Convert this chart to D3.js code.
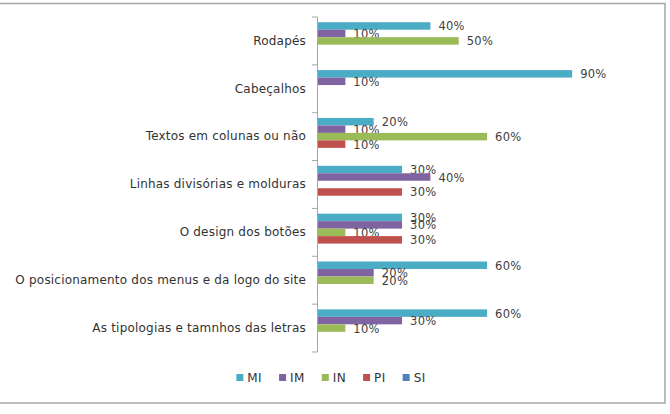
<!DOCTYPE html>
<html>
<head>
<meta charset="utf-8">
<script src="https://cdn.jsdelivr.net/npm/d3@7/dist/d3.min.js"></script>
<style>
html,body{margin:0;padding:0;background:#fff;}
svg{display:block;}
text{font-family:"DejaVu Sans",sans-serif;}
</style>
</head>
<body>
<svg id="chart" width="670" height="414"></svg>
<script>
// Categories from top to bottom
const categories = [
  "Rodapés",
  "Cabeçalhos",
  "Textos em colunas ou não",
  "Linhas divisórias e molduras",
  "O design dos botões",
  "O posicionamento dos menus e da logo do site",
  "As tipologias e tamnhos das letras"
];
const seriesNames = ["MI", "IM", "IN", "PI", "SI"];
const seriesColors = ["#4bacc6", "#8064a2", "#9bbb59", "#c0504d", "#4f81bd"];
// values per series, in category order (null = no bar)
const MI = [0.4, 0.9, 0.2, 0.3, 0.3, 0.6, 0.6];
const IM = [0.1, 0.1, 0.1, 0.4, 0.3, 0.2, 0.3];
const IN = [0.5, null, 0.6, null, 0.1, 0.2, 0.1];
const PI = [null, null, 0.1, 0.3, 0.3, null, null];
const SI = [null, null, null, null, null, null, null];
const seriesValues = [MI, IM, IN, PI, SI];

const svg = d3.select("#chart");

// outer frame
svg.append("rect")
  .attr("x", -1).attr("y", 3.5).attr("width", 666).attr("height", 399.5)
  .attr("fill", "#fff").attr("stroke", "#a6a6a6").attr("stroke-width", 1.5);

const plot = {left: 317, right: 600.5, top: 17, bottom: 352};

const x = d3.scaleLinear().domain([0, 1]).range([plot.left, plot.right]);
const y = d3.scaleBand().domain(categories).range([plot.top, plot.bottom]).paddingInner(0).paddingOuter(0);
const inner = d3.scaleBand().domain(seriesNames).range([0, y.bandwidth()]).paddingOuter(0.7).paddingInner(0);

// bars
seriesNames.forEach((s, si) => {
  const vals = seriesValues[si];
  const data = categories.map((c, i) => ({c, v: vals[i]})).filter(d => d.v != null);
  const g = svg.append("g");
  g.selectAll("rect").data(data).enter().append("rect")
    .attr("x", x(0))
    .attr("y", d => y(d.c) + inner(s))
    .attr("width", d => x(d.v) - x(0))
    .attr("height", inner.bandwidth())
    .attr("fill", seriesColors[si]);
  g.selectAll("text").data(data).enter().append("text")
    .attr("x", d => x(d.v) + 8)
    .attr("y", d => y(d.c) + inner(s) + inner.bandwidth() / 2 + 1)
    .attr("dominant-baseline", "middle")
    .attr("font-size", 11.5)
    .attr("letter-spacing", 0.3)
    .attr("fill", "#404040")
    .text(d => Math.round(d.v * 100) + "%");
});

// axis
const yAxis = d3.axisLeft(y).tickSizeInner(0).tickSizeOuter(0).tickPadding(11);
const ag = svg.append("g").attr("transform", `translate(${plot.left},0)`).call(yAxis);
ag.select(".domain").attr("stroke", "#a6a6a6").attr("d", `M0.5,${plot.top}V${plot.bottom}`);
ag.selectAll(".tick text").attr("font-size", 12).attr("letter-spacing", 0.2)
  .attr("fill", "#333").attr("font-family", "DejaVu Sans");
// boundary ticks
const boundaries = categories.map(c => y(c)).concat([plot.bottom]);
ag.selectAll(".btick").data(boundaries).enter().append("line")
  .attr("x1", -5).attr("x2", 0.5).attr("y1", d => d).attr("y2", d => d)
  .attr("stroke", "#a6a6a6");

// legend
const lg = svg.append("g");
let cx = 0;
seriesNames.forEach((s, i) => {
  const g = lg.append("g");
  g.append("rect").attr("x", 0).attr("y", -3.5).attr("width", 7).attr("height", 7).attr("fill", seriesColors[i]);
  const t = g.append("text").attr("x", 11).attr("y", 0.5).attr("dominant-baseline", "middle")
    .attr("font-size", 12).attr("letter-spacing", 0.4).attr("fill", "#333").text(s);
  const w = 11 + t.node().getComputedTextLength();
  g.attr("transform", `translate(${cx},0)`);
  cx += w + 17;
});
const totalW = cx - 17;
lg.attr("transform", `translate(${331 - totalW / 2},377.5)`);
</script>
</body>
</html>
